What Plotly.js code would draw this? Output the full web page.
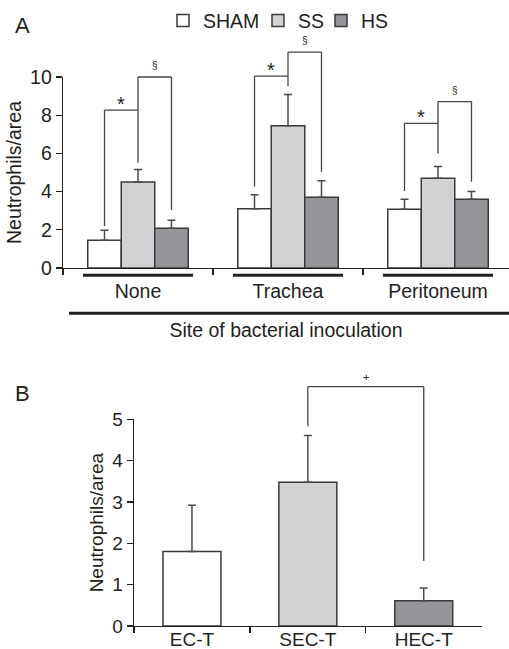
<!DOCTYPE html>
<html><head><meta charset="utf-8">
<script src="https://cdn.plot.ly/plotly-3.0.1.min.js"></script>
<style>html,body{margin:0;padding:0;background:#fff;} #chart{width:509px;height:649px;}</style>
</head><body><div id="chart"></div>
<script>
// ---------- Panel A data ----------
const sitesA = ['None', 'Trachea', 'Peritoneum'];
const shamMean = [1.45, 3.10, 3.08];
const shamErr  = [0.52, 0.74, 0.52];
const ssMean   = [4.50, 7.45, 4.70];
const ssErr    = [0.66, 1.64, 0.62];
const hsMean   = [2.08, 3.70, 3.60];
const hsErr    = [0.42, 0.87, 0.40];
const noLowerErr = [0, 0, 0];
// significance brackets (values on the y scale)
const shamLegA = [2.2, 4.26, 4.03];
const starTopA = [8.27, 10.05, 7.57];
const ssLegA   = [5.51, 9.53, 6.0];
const sectTopA = [10.0, 11.3, 8.71];
const hsLegA   = [3.04, 5.04, 4.52];

// ---------- Panel B data ----------
const groupsB = ['EC-T', 'SEC-T', 'HEC-T'];
const meanB = [1.80, 3.48, 0.61];
const errB  = [1.12, 1.13, 0.31];
const noLowerErrB = [0, 0, 0];
const bracketBFrom = 1, bracketBTo = 2;
const bracketBTop = 5.79, bracketBLegFrom = 4.83, bracketBLegTo = 1.57;

// ---------- style ----------
const W = 509, H = 649;
const FONT = 'Liberation Sans, Arial, Helvetica, sans-serif';
const TXT = '#231f20';
const EDGE = '#3a3a3a';
const ERRC = '#4a4a4a';
const fills = ['#ffffff', '#d1d2d4', '#939598'];
const legendIds = ['legend', 'legend2', 'legend3'];
const legendX = [163, 258, 321];   // left edge (px) of each legend entry

const domAx = [63 / W, 1];
const domAy = [(H - 268) / H, (H - 77) / H];
const domBx = [134 / W, 481.7 / W];
const domBy = [(H - 626) / H, (H - 419.3) / H];
const yMaxA = 10, yMaxB = 5;
const yA = v => domAy[0] + v / yMaxA * (domAy[1] - domAy[0]);
const yB = v => domBy[0] + v / yMaxB * (domBy[1] - domBy[0]);

function barTrace(name, y, err, color, lg) {
  return {
    type: 'bar', name: name, x: sitesA, y: y, xaxis: 'x', yaxis: 'y',
    legend: lg,
    marker: {color: color, line: {color: EDGE, width: 1.5}},
    error_y: {type: 'data', symmetric: false, array: err, arrayminus: noLowerErr,
              color: ERRC, thickness: 1.5, width: 4},
    hoverinfo: 'skip'
  };
}

const traces = [
  barTrace('SHAM', shamMean, shamErr, fills[0], legendIds[0]),
  barTrace('SS', ssMean, ssErr, fills[1], legendIds[1]),
  barTrace('HS', hsMean, hsErr, fills[2], legendIds[2]),
  {
    type: 'bar', x: groupsB, y: meanB, xaxis: 'x2', yaxis: 'y2', showlegend: false,
    width: 0.5,
    marker: {color: fills, line: {color: EDGE, width: 1.5}},
    error_y: {type: 'data', symmetric: false, array: errB, arrayminus: noLowerErrB,
              color: ERRC, thickness: 1.5, width: 4},
    hoverinfo: 'skip'
  }
];

const shapes = [];
const annotations = [];
const off = (1 - 0.33) / 3;  // bar offset within group
const lineStyle = {color: '#444', width: 1.3};

function seg(xref, yref, x0, y0, x1, y1, line) {
  shapes.push({type: 'line', xref: xref, yref: yref, x0: x0, y0: y0, x1: x1, y1: y1, line: line});
}

sitesA.forEach((s, i) => {
  const xs = i - off, xm = i, xh = i + off;
  // SHAM vs SS bracket
  seg('x', 'paper', xs, yA(shamLegA[i]), xs, yA(starTopA[i]), lineStyle);
  seg('x', 'paper', xs, yA(starTopA[i]), xm, yA(starTopA[i]), lineStyle);
  // SS vs HS bracket
  seg('x', 'paper', xm, yA(ssLegA[i]), xm, yA(sectTopA[i]), lineStyle);
  seg('x', 'paper', xm, yA(sectTopA[i]), xh, yA(sectTopA[i]), lineStyle);
  seg('x', 'paper', xh, yA(sectTopA[i]), xh, yA(hsLegA[i]), lineStyle);
  annotations.push({xref: 'x', yref: 'paper', x: (xs + xm) / 2, y: yA(starTopA[i]),
    yanchor: 'bottom', yshift: -7, text: '*', showarrow: false,
    font: {family: FONT, size: 20, color: TXT}});
  annotations.push({xref: 'x', yref: 'paper', x: (xm + xh) / 2, y: yA(sectTopA[i]),
    yanchor: 'bottom', yshift: 4, text: '§', showarrow: false,
    font: {family: FONT, size: 10, color: TXT}});
  // underline of each site
  seg('x', 'paper', i - 0.367, (H - 275.3) / H, i + 0.367, (H - 275.3) / H, {color: TXT, width: 3});
});
// long line above x-axis title
seg('paper', 'paper', 69 / W, (H - 313.3) / H, 1, (H - 313.3) / H, {color: TXT, width: 3});

// Panel B bracket
seg('x2', 'paper', bracketBFrom, yB(bracketBLegFrom), bracketBFrom, yB(bracketBTop), lineStyle);
seg('x2', 'paper', bracketBFrom, yB(bracketBTop), bracketBTo, yB(bracketBTop), lineStyle);
seg('x2', 'paper', bracketBTo, yB(bracketBTop), bracketBTo, yB(bracketBLegTo), lineStyle);
annotations.push({xref: 'x2', yref: 'paper', x: (bracketBFrom + bracketBTo) / 2, y: yB(bracketBTop),
  yanchor: 'bottom', yshift: 2, text: '+', showarrow: false,
  font: {family: FONT, size: 11, color: TXT}});

// panel letters
annotations.push({xref: 'paper', yref: 'paper', x: 22.5 / W, y: (H - 25.8) / H, xanchor: 'center', yanchor: 'middle',
  text: 'A', showarrow: false, font: {family: FONT, size: 22, color: TXT}});
annotations.push({xref: 'paper', yref: 'paper', x: 22.5 / W, y: (H - 393.3) / H, xanchor: 'center', yanchor: 'middle',
  text: 'B', showarrow: false, font: {family: FONT, size: 22, color: TXT}});

const axCommon = {
  showgrid: false, zeroline: false, showline: true, linecolor: TXT, linewidth: 1.3,
  ticks: 'outside', ticklen: 6, tickwidth: 1.3, tickcolor: TXT,
  tickfont: {family: FONT, size: 19.5, color: TXT}, fixedrange: true
};

function legendAt(px) {
  return {orientation: 'h', x: px / W, xanchor: 'left', y: (H - 20.7) / H, yanchor: 'middle',
    font: {family: FONT, size: 19.5, color: TXT}, bgcolor: 'rgba(0,0,0,0)',
    itemclick: false, itemdoubleclick: false};
}

const layout = {
  width: W, height: H,
  margin: {l: 0, r: 0, t: 0, b: 0},
  paper_bgcolor: '#fff', plot_bgcolor: 'rgba(0,0,0,0)',
  font: {family: FONT, size: 19.5, color: TXT},
  barmode: 'group', bargap: 0.33, bargroupgap: 0,
  showlegend: true,
  legend: legendAt(legendX[0]),
  legend2: legendAt(legendX[1]),
  legend3: legendAt(legendX[2]),
  xaxis: Object.assign({}, axCommon, {
    domain: domAx, anchor: 'y', type: 'category', tickson: 'boundaries',
    range: [-0.5, -0.5 + (W - 63) / 150], ticklabelstandoff: 5,
    title: {text: 'Site of bacterial inoculation', standoff: 22, font: {family: FONT, size: 19.5, color: TXT}}
  }),
  yaxis: Object.assign({}, axCommon, {
    domain: domAy, anchor: 'x', range: [0, yMaxA], tickvals: [0, 2, 4, 6, 8, 10],
    title: {text: 'Neutrophils/area', standoff: 3, font: {family: FONT, size: 19.5, color: TXT}}
  }),
  xaxis2: Object.assign({}, axCommon, {
    domain: domBx, anchor: 'y2', type: 'category', tickson: 'boundaries', range: [-0.5, 2.5],
    ticklabelstandoff: -4,
    tickfont: {family: FONT, size: 19, color: TXT}
  }),
  yaxis2: Object.assign({}, axCommon, {
    domain: domBy, anchor: 'x2', range: [0, yMaxB], tickvals: [0, 1, 2, 3, 4, 5],
    tickfont: {family: FONT, size: 19, color: TXT},
    title: {text: 'Neutrophils/area', standoff: 3, font: {family: FONT, size: 19, color: TXT}}
  }),
  shapes: shapes,
  annotations: annotations
};

Plotly.newPlot('chart', traces, layout, {displayModeBar: false, staticPlot: true});
</script>
</body></html>
